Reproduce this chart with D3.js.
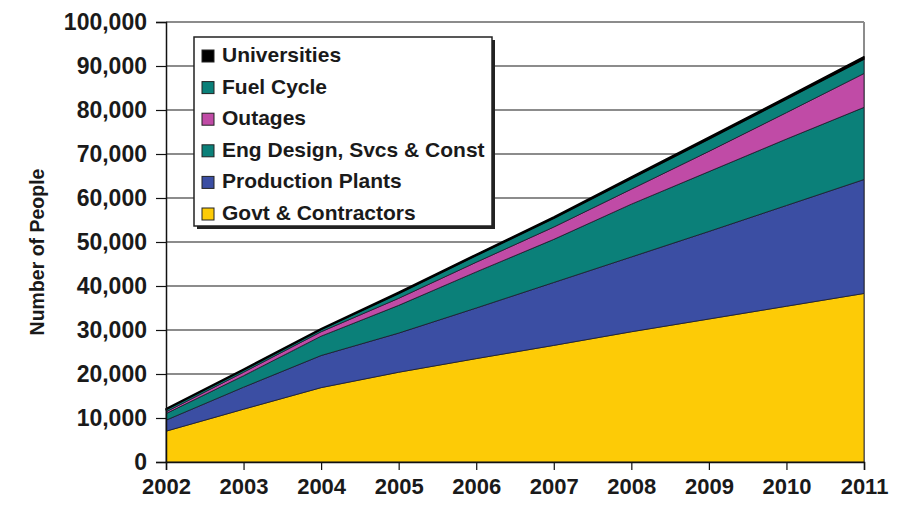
<!DOCTYPE html>
<html><head><meta charset="utf-8">
<script src="https://cdn.jsdelivr.net/npm/d3@7"></script>
<style>
body{margin:0;background:#fff;}
text{font-family:"Liberation Sans",Arial,Helvetica,sans-serif;font-weight:bold;fill:#1a1a1a;}
</style></head>
<body><svg id="c" width="910" height="532"></svg>
<script>
const years = [2002,2003,2004,2005,2006,2007,2008,2009,2010,2011];
const govt        = [7000,12000,16900,20400,23500,26500,29600,32500,35400,38300];
const production  = [2500,5000,7300,8900,11500,14300,17000,19900,22900,25900];
const engDesign   = [1500,2600,4400,6300,8200,9800,12000,13600,15100,16400];
const outages     = [400,800,1000,1600,2200,2800,3400,4600,6000,7700];
const fuelCycle   = [500,500,500,1100,1500,2000,2400,2800,3100,3300];
const universities= [200,200,200,300,300,300,400,400,400,500];
const seriesNames = ["Govt & Contractors","Production Plants","Eng Design, Svcs & Const","Outages","Fuel Cycle","Universities"];
const colors = ["#fdcb06","#3b4ea3","#0b8079","#c04ba6","#0b8079","#000000"];
const yTicks = [0,10000,20000,30000,40000,50000,60000,70000,80000,90000,100000];

const allSeries=[govt,production,engDesign,outages,fuelCycle,universities];
const data = years.map((y,i)=>{const o={year:y}; seriesNames.forEach((n,k)=>o[n]=allSeries[k][i]); return o;});
const stack = d3.stack().keys(seriesNames)(data);

const svg=d3.select("#c");
const L=166,R=864,T=22,B=462;
const x=d3.scaleLinear().domain([2002,2011]).range([L,R]);
const y=d3.scaleLinear().domain([0,100000]).range([B,T]);

// gridlines
svg.append("g").selectAll("line").data(yTicks.filter(d=>d>0)).join("line")
 .attr("x1",L).attr("x2",R).attr("y1",d=>y(d)).attr("y2",d=>y(d))
 .attr("stroke","#8c8c8c").attr("stroke-width",2);
svg.append("line").attr("x1",R).attr("x2",R).attr("y1",T).attr("y2",B).attr("stroke","#8c8c8c").attr("stroke-width",2);

// areas
const area=d3.area().x(d=>x(d.data.year)).y0(d=>y(d[0])).y1(d=>y(d[1]));
svg.append("g").selectAll("path").data(stack).join("path")
 .attr("d",area).attr("fill",(d,i)=>colors[i])
 .attr("stroke",(d,i)=>i===5?"#000":"#1a1a2a").attr("stroke-width",(d,i)=>i===5?1.5:0.8).attr("stroke-linejoin","round");

// axes
const yAxis=d3.axisLeft(y).tickValues(yTicks).tickSize(10).tickPadding(9).tickFormat(d3.format(","));
const gy=svg.append("g").attr("transform",`translate(${L},0)`).call(yAxis);
gy.select(".domain").attr("stroke","#111").attr("stroke-width",1.5);
gy.selectAll(".tick line").attr("stroke","#111").attr("stroke-width",1.2);
gy.selectAll("text").style("font-size","23px").attr("fill","#1a1a1a");
const xAxis=d3.axisBottom(x).tickValues(years).tickSize(8).tickPadding(8).tickFormat(d3.format("d"));
const gx=svg.append("g").attr("transform",`translate(0,${B})`).call(xAxis);
gx.select(".domain").attr("stroke","#111").attr("stroke-width",1.5);
gx.selectAll(".tick line").attr("stroke","#111").attr("stroke-width",1.2);
gx.selectAll("text").style("font-size","22px").attr("fill","#1a1a1a").attr("dy","0.71em");
svg.selectAll(".tick text").style("font-family","'Liberation Sans',Arial,sans-serif").style("font-weight","bold");

// y title
svg.append("text").attr("transform","translate(44,252) rotate(-90)").attr("text-anchor","middle")
 .style("font-size","19.5px").text("Number of People");

// legend
const lg=svg.append("g");
lg.append("rect").attr("x",197).attr("y",40).attr("width",298).attr("height",189).attr("fill","#222");
lg.append("rect").attr("x",194).attr("y",37).attr("width",298).attr("height",189).attr("fill","#fff").attr("stroke","#222").attr("stroke-width",1.5);
const order=[5,4,3,2,1,0];
order.forEach((k,i)=>{
  const by=62+i*31.6;
  lg.append("rect").attr("x",202).attr("y",by-12).attr("width",12).attr("height",12)
   .attr("fill",colors[k]).attr("stroke","#222").attr("stroke-width",1);
  lg.append("text").attr("x",222).attr("y",by).style("font-size","21px").text(seriesNames[k]);
});
</script></body></html>
